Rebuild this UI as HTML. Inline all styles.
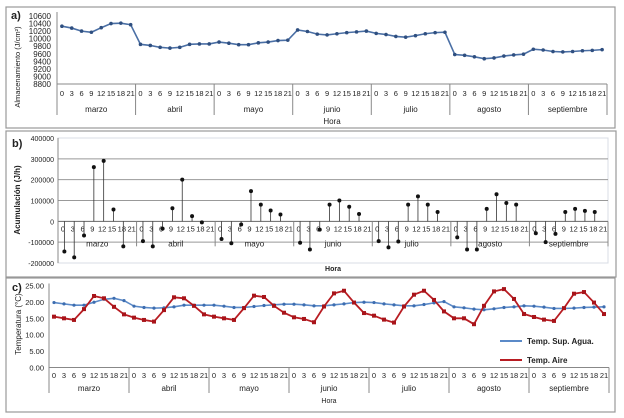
<!DOCTYPE html>
<html><head><meta charset="utf-8"><style>
html,body{margin:0;padding:0;background:#fff;}
svg{display:block;font-family:"Liberation Sans",sans-serif;}
text{fill:#222;}
</style></head><body>
<svg id="fig" width="624" height="418" viewBox="0 0 624 418">
<rect x="6" y="7" width="609" height="121" fill="none" stroke="#999" stroke-width="1.2"/>
<rect x="6" y="131" width="610" height="146" fill="none" stroke="#999" stroke-width="1.2"/>
<rect x="6" y="278" width="609" height="134" fill="none" stroke="#999" stroke-width="1.2"/>
<text x="11" y="19" font-size="11" font-weight="bold">a)</text>
<text x="12" y="147" font-size="11" font-weight="bold">b)</text>
<text x="12" y="291" font-size="11" font-weight="bold">c)</text>
<g id="ga"></g><g id="gb"></g><g id="gc"></g>
</svg>
<script>
const months = ["marzo","abril","mayo","junio","julio","agosto","septiembre"];
const hours = ["0","3","6","9","12","15","18","21"];
const aTicks = [8800,9000,9200,9400,9600,9800,10000,10200,10400,10600];
const aValues = [10330,10280,10200,10170,10290,10400,10410,10370,
 9850,9820,9770,9750,9770,9850,9860,9860,
 9910,9880,9840,9840,9890,9910,9950,9960,
 10230,10190,10120,10100,10130,10160,10180,10200,
 10140,10110,10060,10040,10080,10130,10160,10170,
 9580,9560,9520,9470,9490,9540,9570,9590,
 9720,9700,9660,9650,9660,9680,9690,9710];
const bTicks = [-200000,-100000,0,100000,200000,300000,400000];
const bValues = [-145000,-173000,-68000,260000,290000,57000,-120000,0,
 -95000,-120000,-35000,63000,200000,25000,-5000,0,
 -85000,-105000,-15000,145000,80000,52000,33000,0,
 -103000,-135000,-40000,80000,100000,70000,35000,0,
 -95000,-125000,-97000,80000,120000,80000,45000,0,
 -77000,-135000,-135000,60000,130000,88000,80000,0,
 -57000,-100000,-60000,45000,60000,50000,45000,0];
const cTicks = [0,5,10,15,20,25];
const water = [19.8,19.4,19.0,19.0,19.9,20.8,21.1,20.4,
 18.7,18.3,18.1,18.2,18.5,19.0,19.0,19.0,
 19.0,18.7,18.3,18.3,18.6,18.9,19.1,19.3,
 19.3,19.1,18.8,18.8,19.1,19.4,19.8,19.9,
 19.8,19.4,19.1,18.8,18.8,19.2,19.7,20.1,
 18.5,18.2,17.8,17.6,17.9,18.3,18.5,18.8,
 18.7,18.4,18.0,18.0,18.1,18.3,18.4,18.5];
const air = [15.5,15.0,14.5,17.8,21.8,21.1,18.5,16.2,
 15.2,14.5,14.0,17.5,21.4,21.1,18.8,16.2,
 15.5,15.0,14.5,18.1,21.9,21.5,18.8,16.7,
 15.3,14.8,13.8,18.6,22.6,23.4,19.8,16.6,
 15.8,14.6,13.7,18.6,22.2,23.4,20.6,17.1,
 15.0,15.0,13.2,18.8,23.2,23.9,20.9,16.3,
 15.4,14.6,14.2,18.1,22.5,23.0,19.8,16.3];

const NS="http://www.w3.org/2000/svg";
function mk(parent,tag,attrs,txt){const e=document.createElementNS(NS,tag);for(const k in attrs)e.setAttribute(k,attrs[k]);if(txt!==undefined)e.textContent=txt;parent.appendChild(e);return e;}
function fmtC(v){return v.toFixed(2);}

// ---------- Panel a ----------
(function(){
 const g=document.getElementById('ga');
 const x0=57,x1=607,yT=16,yB=84,vMin=8800,vMax=10600;
 const mw=(x1-x0)/7,pw=mw/8;
 const X=i=>x0+Math.floor(i/8)*mw+((i%8)+0.5)*pw;
 const Y=v=>yB-(v-vMin)/(vMax-vMin)*(yB-yT);
 mk(g,'line',{x1:x0,y1:yT-4,x2:x0,y2:yB,stroke:'#888'});
 mk(g,'line',{x1:x0,y1:yB,x2:x1,y2:yB,stroke:'#888'});
 aTicks.forEach(t=>{const e=mk(g,'text',{x:51,y:Y(t)+3,'font-size':8,'text-anchor':'end'},t);
  
  });
 const tt=mk(g,'text',{x:0,y:0,'font-size':7.5,'text-anchor':'middle',transform:'translate(20,67) rotate(-90)'},'Almacenamiento (J/cm²)');
 
 
 for(let m=0;m<=7;m++){mk(g,'line',{x1:x0+m*mw,y1:yB,x2:x0+m*mw,y2:115,stroke:'#888'});}
 months.forEach((mo,m)=>{
  const e=mk(g,'text',{x:x0+(m+0.5)*mw,y:112,'font-size':8,'text-anchor':'middle'},mo);
  
  
  hours.forEach((h,j)=>{const t=mk(g,'text',{x:x0+m*mw+(j+0.5)*pw,y:96,'font-size':7.5,'text-anchor':'middle'},h);
   
   });
 });
 const hx=mk(g,'text',{x:332,y:124,'font-size':8,'text-anchor':'middle'},'Hora');
 
 
 const pts=aValues.map((v,i)=>X(i)+','+Y(v)).join(' ');
 const pl=mk(g,'polyline',{points:pts,fill:'none',stroke:'#4a6fa5','stroke-width':1.6});
 
 
 aValues.forEach((v,i)=>{const c=mk(g,'circle',{cx:X(i),cy:Y(v),r:1.8,fill:'#2f4f80'});
  
  });
})();

// ---------- Panel b ----------
(function(){
 const g=document.getElementById('gb');
 const x0=58,x1=608,vMin=-200000,vMax=400000,yT=138,yB=263;
 const mw=(x1-x0)/7,pw=mw/8;
 const X=i=>x0+Math.floor(i/8)*mw+((i%8)+0.65)*pw;
 const Y=v=>yB-(v-vMin)/(vMax-vMin)*(yB-yT);
 mk(g,'rect',{x:x0,y:yT,width:x1-x0,height:yB-yT,fill:'none',stroke:'#d8dce4'});
 bTicks.forEach(t=>{
  if(t>-200000&&t<400000) mk(g,'line',{x1:x0,y1:Y(t),x2:x1,y2:Y(t),stroke:t===0?'#666':'#999'});
  const e=mk(g,'text',{x:54,y:Y(t)+3,'font-size':7,'text-anchor':'end'},t);
  
  });
 mk(g,'line',{x1:x0,y1:yT,x2:x0,y2:yB,stroke:'#888'});
 const tt=mk(g,'text',{x:0,y:0,'font-size':8,'font-weight':'bold','text-anchor':'middle',transform:'translate(20,200) rotate(-90)'},'Acumulación (J/h)');
 
 
 const y0=Y(0);
 for(let m=0;m<=7;m++){mk(g,'line',{x1:x0+m*mw,y1:y0,x2:x0+m*mw,y2:y0+25,stroke:'#888'});}
 months.forEach((mo,m)=>{
  const e=mk(g,'text',{x:x0+(m+0.5)*mw,y:y0+25,'font-size':8,'text-anchor':'middle'},mo);
  
  
  hours.forEach((h,j)=>{const t=mk(g,'text',{x:x0+m*mw+(j+0.5)*pw,y:y0+10,'font-size':7.5,'text-anchor':'middle'},h);
   
   });
 });
 const hx=mk(g,'text',{x:333,y:271,'font-size':7,'font-weight':'bold','text-anchor':'middle'},'Hora');
 
 
 bValues.forEach((v,i)=>{
  if(v===0) return;
  const l=mk(g,'line',{x1:X(i),y1:y0,x2:X(i),y2:Y(v),stroke:'#333','stroke-width':0.8});
  
  
  const c=mk(g,'circle',{cx:X(i),cy:Y(v),r:2,fill:'#111'});
  
  
 });
})();

// ---------- Panel c ----------
(function(){
 const g=document.getElementById('gc');
 const x0=49,x1=609,yT=285.5,yB=367.5,vMin=0,vMax=25;
 const mw=(x1-x0)/7,pw=mw/8;
 const X=i=>x0+Math.floor(i/8)*mw+((i%8)+0.5)*pw;
 const Y=v=>yB-(v-vMin)/(vMax-vMin)*(yB-yT);
 mk(g,'line',{x1:x0,y1:yT-2,x2:x0,y2:yB,stroke:'#888'});
 mk(g,'line',{x1:x0,y1:yB,x2:x1,y2:yB,stroke:'#888'});
 cTicks.forEach(t=>{const e=mk(g,'text',{x:44,y:Y(t)+3,'font-size':7.5,'text-anchor':'end'},fmtC(t));
  
  });
 const tt=mk(g,'text',{x:0,y:0,'font-size':8,'text-anchor':'middle',transform:'translate(21,324) rotate(-90)'},'Temperatura (°C)');
 
 
 for(let m=0;m<=7;m++){mk(g,'line',{x1:x0+m*mw,y1:yB,x2:x0+m*mw,y2:393,stroke:'#888'});}
 months.forEach((mo,m)=>{
  const e=mk(g,'text',{x:x0+(m+0.5)*mw,y:391,'font-size':8,'text-anchor':'middle'},mo);
  
  
  hours.forEach((h,j)=>{const t=mk(g,'text',{x:x0+m*mw+(j+0.5)*pw,y:378,'font-size':7.5,'text-anchor':'middle'},h);
   
   });
 });
 const hx=mk(g,'text',{x:329,y:403,'font-size':7,'text-anchor':'middle'},'Hora');
 
 
 const wl=mk(g,'polyline',{points:water.map((v,i)=>X(i)+','+Y(v)).join(' '),fill:'none',stroke:'#5b8ac8','stroke-width':1.6});
 
 
 water.forEach((v,i)=>{const c=mk(g,'circle',{cx:X(i),cy:Y(v),r:1.6,fill:'#3d6db0'});
  
  });
 const al=mk(g,'polyline',{points:air.map((v,i)=>X(i)+','+Y(v)).join(' '),fill:'none',stroke:'#b81c22','stroke-width':1.8});
 
 
 air.forEach((v,i)=>{const r=mk(g,'rect',{x:X(i)-2,y:Y(v)-2,width:4,height:4,fill:'#a8141a'});
  
  });
 const lg1=mk(g,'line',{x1:500,y1:341,x2:522,y2:341,stroke:'#5b8ac8','stroke-width':2});
 
 
 const lt1=mk(g,'text',{x:527,y:344,'font-size':8,'font-weight':'bold'},'Temp. Sup. Agua.');
 
 
 const lg2=mk(g,'line',{x1:500,y1:360,x2:522,y2:360,stroke:'#b81c22','stroke-width':2});
 
 
 const lt2=mk(g,'text',{x:527,y:363,'font-size':8,'font-weight':'bold'},'Temp. Aire');
 
 
})();
</script>
</body></html>
